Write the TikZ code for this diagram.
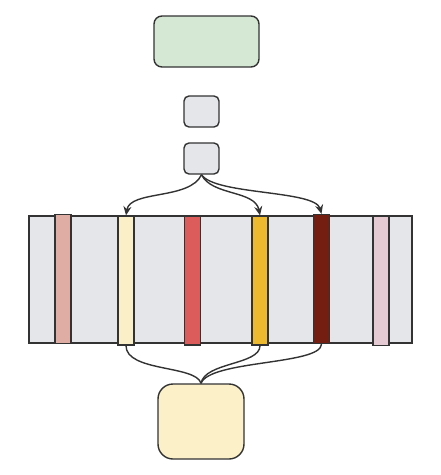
\documentclass[tikz,border=0pt]{standalone}
\usetikzlibrary{arrows.meta}
\definecolor{edge}{HTML}{333333}
\definecolor{grayfill}{HTML}{E4E6E9}
\definecolor{greenfill}{HTML}{D5E8D4}
\definecolor{yellowfill}{HTML}{FBF0C8}
\definecolor{cA}{HTML}{E0ADA5}
\definecolor{cB}{HTML}{FBEFC8}
\definecolor{cC}{HTML}{DC5C5C}
\definecolor{cD}{HTML}{EDB92F}
\definecolor{cE}{HTML}{731E10}
\definecolor{cF}{HTML}{E6CAD3}
\begin{document}
\begin{tikzpicture}[x=1pt,y=-1pt,
  box/.style={draw=edge,line width=1.4pt,rounded corners=#1,inner sep=0pt},
  box/.default=6pt,
  bar/.style={draw=edge,line width=1.3pt,inner sep=0pt,minimum width=16pt,minimum height=129pt},
  link/.style={draw=edge,line width=1.4pt},
  arr/.style={link,-{Stealth[length=9pt,width=8pt]}}]
\useasboundingbox (0,0) rectangle (441,475);
\node[box=8pt,fill=greenfill,minimum width=105pt,minimum height=51pt] (green) at (206.5,41.5) {};
\node[box=5pt,fill=grayfill,minimum width=35pt,minimum height=31pt] (s1) at (201.5,111.5) {};
\node[box=5pt,fill=grayfill,minimum width=35pt,minimum height=31pt] (s2) at (201.5,158.5) {};
\node[draw=edge,line width=1.3pt,fill=grayfill,inner sep=0pt,minimum width=383pt,minimum height=127pt] (band) at (220.5,279.5) {};
\node[bar,fill=cA] (b1) at (63,279) {};
\node[bar,fill=cB] (b2) at (126,280.5) {};
\node[bar,fill=cC] (b3) at (192.5,280.5) {};
\node[bar,fill=cD] (b4) at (260,280.5) {};
\node[bar,fill=cE] (b5) at (321.5,279) {};
\node[bar,fill=cF] (b6) at (381,281) {};
\node[box=15pt,fill=yellowfill,minimum width=86pt,minimum height=75pt] (bot) at (201,421.5) {};
\draw[arr] (s2.south) .. controls (190,200) and (130,190) .. (b2.north);
\draw[arr] (s2.south) .. controls (212,196) and (255,190) .. (b4.north);
\draw[arr] (s2.south) .. controls (215,195) and (315,190) .. (b5.north);
\draw[link] (b2.south) .. controls (126,372) and (196,365) .. (bot.north);
\draw[link] (b4.south) .. controls (260,365) and (205,362) .. (bot.north);
\draw[link] (b5.south) .. controls (321,365) and (210,360) .. (bot.north);
\end{tikzpicture}
\end{document}
